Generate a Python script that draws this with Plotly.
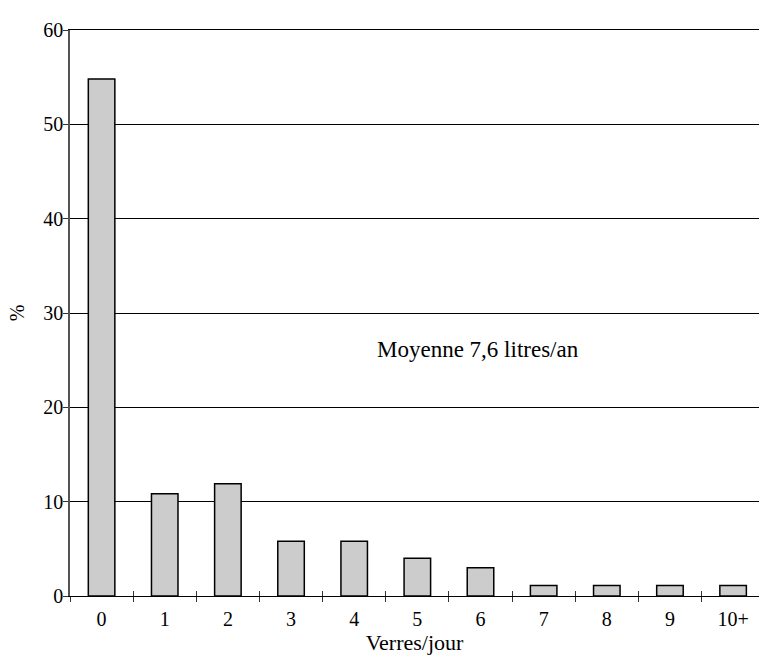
import plotly.graph_objects as go

categories = ["0", "1", "2", "3", "4", "5", "6", "7", "8", "9", "10+"]
percent = [54.8, 10.85, 11.9, 5.8, 5.8, 4.0, 3.0, 1.1, 1.1, 1.1, 1.1]
y_ticks = [0, 10, 20, 30, 40, 50, 60]
annotation_text = "Moyenne 7,6 litres/an"
x_title = "Verres/jour"
y_title = "%"

FONT = "Liberation Serif"
n = len(categories)
xrange_ = [-0.5, n - 1 + 0.41]

fig = go.Figure()
fig.add_trace(go.Bar(
    x=categories, y=percent, width=0.42,
    marker=dict(color="#cccccc", line=dict(color="black", width=1.5)),
    hoverinfo="skip", showlegend=False,
))
# invisible trace so the secondary (inside tick) axis is rendered
fig.add_trace(go.Scatter(x=[None], y=[None], xaxis="x2", showlegend=False, hoverinfo="skip"))

fig.update_layout(
    width=759, height=655,
    margin=dict(l=70, r=0, t=30, b=59),
    plot_bgcolor="white", paper_bgcolor="white",
    font=dict(family=FONT, size=20, color="black"),
    xaxis=dict(
        type="category", range=xrange_, tickson="boundaries",
        ticks="outside", ticklen=5, tickcolor="#333", tickwidth=1,
        showline=True, linecolor="black", linewidth=1, mirror=True,
        showgrid=False, zeroline=False, automargin=False,
        ticklabelstandoff=5,
        tickfont=dict(family=FONT, size=20),
        title=dict(text=x_title, standoff=4, font=dict(family=FONT, size=22)),
    ),
    xaxis2=dict(
        overlaying="x", anchor="y", range=xrange_, type="linear",
        tickvals=[k + 0.5 for k in range(n - 1)],
        ticks="inside", ticklen=5, tickcolor="#333", tickwidth=1,
        showticklabels=False, showgrid=False, zeroline=False, showline=False,
        automargin=False,
    ),
    yaxis=dict(
        range=[0, 60], tickvals=y_ticks,
        ticks="outside", ticklen=5, tickcolor="#333", tickwidth=1,
        showline=True, linecolor="#555", linewidth=1.5,
        showgrid=True, gridcolor="black", gridwidth=1,
        zeroline=False, automargin=False,
        ticklabelstandoff=-4,
        tickfont=dict(family=FONT, size=20),
        title=dict(text=y_title, standoff=13, font=dict(family=FONT, size=20)),
    ),
    annotations=[dict(
        x=0.5915, xref="paper", y=26.1, yref="y",
        text=annotation_text, showarrow=False,
        font=dict(family=FONT, size=23, color="black"),
    )],
)

fig.write_html("out.html", config={"displayModeBar": False},
               post_script="document.body.style.margin='0';")
